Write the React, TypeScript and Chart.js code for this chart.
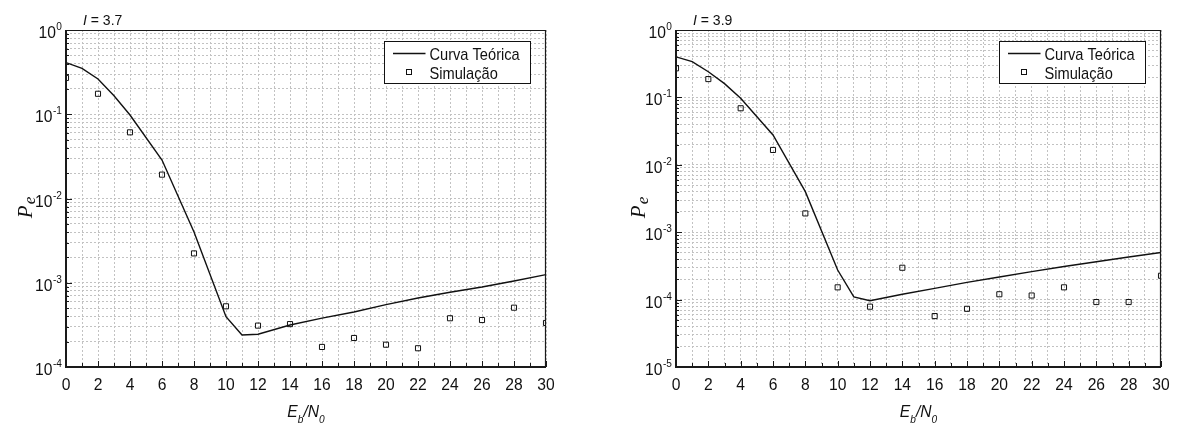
import React, { useEffect, useRef } from "react";
import { Chart, registerables } from "chart.js";

Chart.register(...registerables);

// ---------- data ----------
const theoryX = [0, 1, 2, 3, 4, 6, 8, 10, 11, 12, 14, 16, 18, 20, 22, 24, 26, 28, 30];
const theoryLeft = [0.41, 0.35, 0.262, 0.166, 0.098, 0.0286, 0.004, 3.95e-4, 2.4e-4, 2.45e-4, 3.15e-4, 3.8e-4, 4.5e-4, 5.5e-4, 6.6e-4, 7.7e-4, 8.9e-4, 1.05e-3, 1.25e-3];
const theoryRight = [0.4, 0.34, 0.24, 0.16, 0.097, 0.0277, 0.004, 2.75e-4, 1.1e-4, 9.6e-5, 1.2e-4, 1.47e-4, 1.8e-4, 2.16e-4, 2.6e-4, 3.1e-4, 3.65e-4, 4.28e-4, 5.0e-4];

const simX = [0, 2, 4, 6, 8, 10, 12, 14, 16, 18, 20, 22, 24, 26, 28, 30];
const simLeft = [0.27, 0.175, 0.061, 0.0192, 0.00223, 5.25e-4, 3.1e-4, 3.23e-4, 1.73e-4, 2.21e-4, 1.84e-4, 1.67e-4, 3.79e-4, 3.61e-4, 5.06e-4, 3.33e-4];
const simRight = [0.27, 0.187, 0.069, 0.0166, 0.0019, 1.52e-4, 7.85e-5, 2.97e-4, 5.7e-5, 7.3e-5, 1.2e-4, 1.15e-4, 1.52e-4, 9.2e-5, 9.2e-5, 2.26e-4];

const xLabelValues = [0, 2, 4, 6, 8, 10, 12, 14, 16, 18, 20, 22, 24, 26, 28, 30];
const leftExponents = [0, -1, -2, -3, -4];
const rightExponents = [0, -1, -2, -3, -4, -5];
const seriesNames = ["Curva Teórica", "Simulação"];
const panelValues = ["3.7", "3.9"];

const H = 428;
const PLOT_TOP = 30;
const PLOT_BOTTOM = 367;

function txt(ctx: CanvasRenderingContext2D, s: string, x: number, y: number, font: string, align: CanvasTextAlign, sx = 1) {
  ctx.save();
  ctx.font = font;
  ctx.translate(x, y);
  ctx.scale(sx, 1);
  ctx.textAlign = align;
  ctx.textBaseline = "alphabetic";
  ctx.fillStyle = "#111";
  ctx.fillText(s, 0, 0);
  ctx.restore();
}
function tw(ctx: CanvasRenderingContext2D, s: string, font: string, sx = 1) {
  ctx.save();
  ctx.font = font;
  const w = ctx.measureText(s).width * sx;
  ctx.restore();
  return w;
}

type PanelProps = {
  width: number;
  plotLeft: number;
  plotRight: number;
  theory: number[];
  sim: number[];
  exponents: number[];
  iValue: string;
  titleOffset: number;
};

function Panel({ width, plotLeft, plotRight, theory, sim, exponents, iValue, titleOffset }: PanelProps) {
  const ref = useRef<HTMLCanvasElement | null>(null);
  useEffect(() => {
    if (!ref.current) return;
    const minExp = Math.min(...exponents);
    const yTicks: number[] = [];
    for (let e = minExp; e <= 0; e++) {
      for (let m = 1; m <= 9; m++) {
        if (e === 0 && m > 1) break;
        yTicks.push(m * Math.pow(10, e));
      }
    }
    const xTicks: number[] = [];
    for (let v = 0; v <= 30; v++) xTicks.push(v);

    const gridColor = "#c2c2c2";
    const SX = 0.92;
    const decor = {
      id: "decor",
      afterDraw(chart: any) {
        const ctx: CanvasRenderingContext2D = chart.ctx;
        const a = chart.chartArea;
        const xs = chart.scales.x;
        const ys = chart.scales.y;
        ctx.save();
        ctx.strokeStyle = "#1a1a1a";
        ctx.lineWidth = 1;
        // x ticks (inward)
        xTicks.forEach((v) => {
          const px = Math.round(xs.getPixelForValue(v)) + 0.5;
          const len = v % 2 === 0 ? 6 : 4;
          ctx.beginPath();
          ctx.moveTo(px, a.bottom);
          ctx.lineTo(px, a.bottom - len);
          ctx.stroke();
        });
        // y ticks
        yTicks.forEach((v) => {
          const py = Math.round(ys.getPixelForValue(v)) + 0.5;
          const isMajor = Math.abs(Math.log10(v) - Math.round(Math.log10(v))) < 1e-9;
          const len = isMajor ? 6 : 3;
          ctx.beginPath();
          ctx.moveTo(a.left, py);
          ctx.lineTo(a.left + len, py);
          ctx.stroke();
        });
        // frame
        ctx.lineWidth = 1.2;
        ctx.beginPath();
        ctx.moveTo(a.left, a.top + 0.5);
        ctx.lineTo(a.right, a.top + 0.5);
        ctx.moveTo(a.right - 0.5, a.top);
        ctx.lineTo(a.right - 0.5, a.bottom);
        ctx.stroke();
        ctx.lineWidth = 2;
        ctx.beginPath();
        ctx.moveTo(a.left, a.top);
        ctx.lineTo(a.left, a.bottom);
        ctx.lineTo(a.right, a.bottom);
        ctx.stroke();

        // x labels
        const tickFont = "17px 'Liberation Sans', Arial, sans-serif";
        xLabelValues.forEach((v) => {
          const px = xs.getPixelForValue(v);
          txt(ctx, String(v), px, a.bottom + 23, tickFont, "center", SX);
        });
        // y labels
        const supFont = "11px 'Liberation Sans', Arial, sans-serif";
        exponents.forEach((e) => {
          const py = ys.getPixelForValue(Math.pow(10, e));
          const sup = e === 0 ? "0" : "-" + Math.abs(e);
          const supW = tw(ctx, sup, supFont, SX);
          const right = a.left - 4;
          txt(ctx, sup, right, py, supFont, "right", SX);
          txt(ctx, "10", right - supW - 0.5, py + 8, tickFont, "right", SX);
        });

        // x title E_b/N_0
        const bigI = "italic 17px 'Liberation Sans', Arial, sans-serif";
        const subI = "italic 11px 'Liberation Sans', Arial, sans-serif";
        const parts: [string, string, number][] = [
          ["E", bigI, 0],
          ["b", subI, 6],
          ["/N", bigI, 0],
          ["0", subI, 6],
        ];
        let total = 0;
        parts.forEach((p) => (total += tw(ctx, p[0], p[1], SX)));
        let cx = (a.left + a.right) / 2 - total / 2;
        parts.forEach((p) => {
          txt(ctx, p[0], cx, 416.5 + p[2], p[1], "left", SX);
          cx += tw(ctx, p[0], p[1], SX);
        });

        // y title P_e
        ctx.save();
        ctx.translate(a.left - titleOffset, 208);
        ctx.rotate(-Math.PI / 2);
        const pFont = "italic 21px 'Liberation Serif', 'Times New Roman', serif";
        const eFont = "italic 17px 'Liberation Serif', 'Times New Roman', serif";
        const pw = tw(ctx, "P", pFont);
        const ew = tw(ctx, "e", eFont);
        const start = -(pw + ew) / 2;
        txt(ctx, "P", start, 0, pFont, "left");
        txt(ctx, "e", start + pw + 1, 3, eFont, "left");
        ctx.restore();

        // I = value label
        const iFont = "italic 14px 'Liberation Sans', Arial, sans-serif";
        const nFont = "14px 'Liberation Sans', Arial, sans-serif";
        txt(ctx, "I", a.left + 17, 25, iFont, "left");
        txt(ctx, " = " + iValue, a.left + 17 + tw(ctx, "I", iFont), 25, nFont, "left");

        // legend
        const bw = 146;
        const bh = 42;
        const bx = Math.round(a.right - 16 - bw) + 0.5;
        const by = 41.5;
        ctx.fillStyle = "#fff";
        ctx.fillRect(bx, by, bw, bh);
        ctx.strokeStyle = "#111";
        ctx.lineWidth = 1;
        ctx.strokeRect(bx, by, bw, bh);
        const ds = chart.data.datasets;
        const legFont = "17px 'Liberation Sans', Arial, sans-serif";
        ctx.lineWidth = 1.3;
        ctx.beginPath();
        ctx.moveTo(bx + 8.5, by + 12);
        ctx.lineTo(bx + 41, by + 12);
        ctx.stroke();
        txt(ctx, ds[0].label, bx + 45, by + 18.5, legFont, "left", 0.86);
        ctx.lineWidth = 1;
        ctx.strokeRect(bx + 22, by + 28, 5, 5);
        txt(ctx, ds[1].label, bx + 45, by + 37, legFont, "left", 0.86);
        ctx.restore();
      },
    };

    const chart = new Chart(ref.current, {
      type: "scatter",
      data: {
        datasets: [
          {
            label: seriesNames[0],
            data: theoryX.map((x, i) => ({ x, y: theory[i] })),
            showLine: true,
            borderColor: "#111",
            borderWidth: 1.4,
            pointRadius: 0,
            tension: 0,
            fill: false,
          },
          {
            label: seriesNames[1],
            data: simX.map((x, i) => ({ x, y: sim[i] })),
            showLine: false,
            pointStyle: "rect",
            pointRadius: 3.6,
            borderWidth: 1,
            borderColor: "#111",
            backgroundColor: "rgba(255,255,255,0)",
            clip: 0,
          } as any,
        ],
      },
      options: {
        responsive: false,
        animation: false,
        events: [],
        layout: { padding: { left: 0, right: width - plotRight, top: PLOT_TOP, bottom: 0 } },
        plugins: { legend: { display: false }, tooltip: { enabled: false } },
        scales: {
          x: {
            type: "linear",
            min: 0,
            max: 30,
            afterBuildTicks: (s: any) => {
              s.ticks = xTicks.map((v) => ({ value: v }));
            },
            afterFit: (s: any) => {
              s.height = H - PLOT_BOTTOM;
            },
            ticks: { display: false },
            grid: { color: gridColor, lineWidth: 1, drawTicks: false },
            border: { display: false, dash: [2, 2] },
          },
          y: {
            type: "logarithmic",
            min: Math.pow(10, minExp),
            max: 1,
            afterBuildTicks: (s: any) => {
              s.ticks = yTicks.map((v) => ({ value: v }));
            },
            afterFit: (s: any) => {
              s.width = plotLeft;
            },
            ticks: { display: false },
            grid: { color: gridColor, lineWidth: 1, drawTicks: false },
            border: { display: false, dash: [2, 2] },
          },
        },
      } as any,
      plugins: [decor],
    });
    return () => chart.destroy();
  }, []);
  return <canvas ref={ref} width={width} height={H} style={{ display: "block" }} />;
}

export default function App() {
  return (
    <div style={{ position: "fixed", left: 0, top: 0, width: 1179, height: H, background: "#fff" }}>
      <div style={{ position: "absolute", left: 0, top: 0 }}>
        <Panel width={590} plotLeft={66} plotRight={546} theory={theoryLeft} sim={simLeft} exponents={leftExponents} iValue={panelValues[0]} titleOffset={34} />
      </div>
      <div style={{ position: "absolute", left: 590, top: 0 }}>
        <Panel width={589} plotLeft={86} plotRight={571} theory={theoryRight} sim={simRight} exponents={rightExponents} iValue={panelValues[1]} titleOffset={31} />
      </div>
    </div>
  );
}
